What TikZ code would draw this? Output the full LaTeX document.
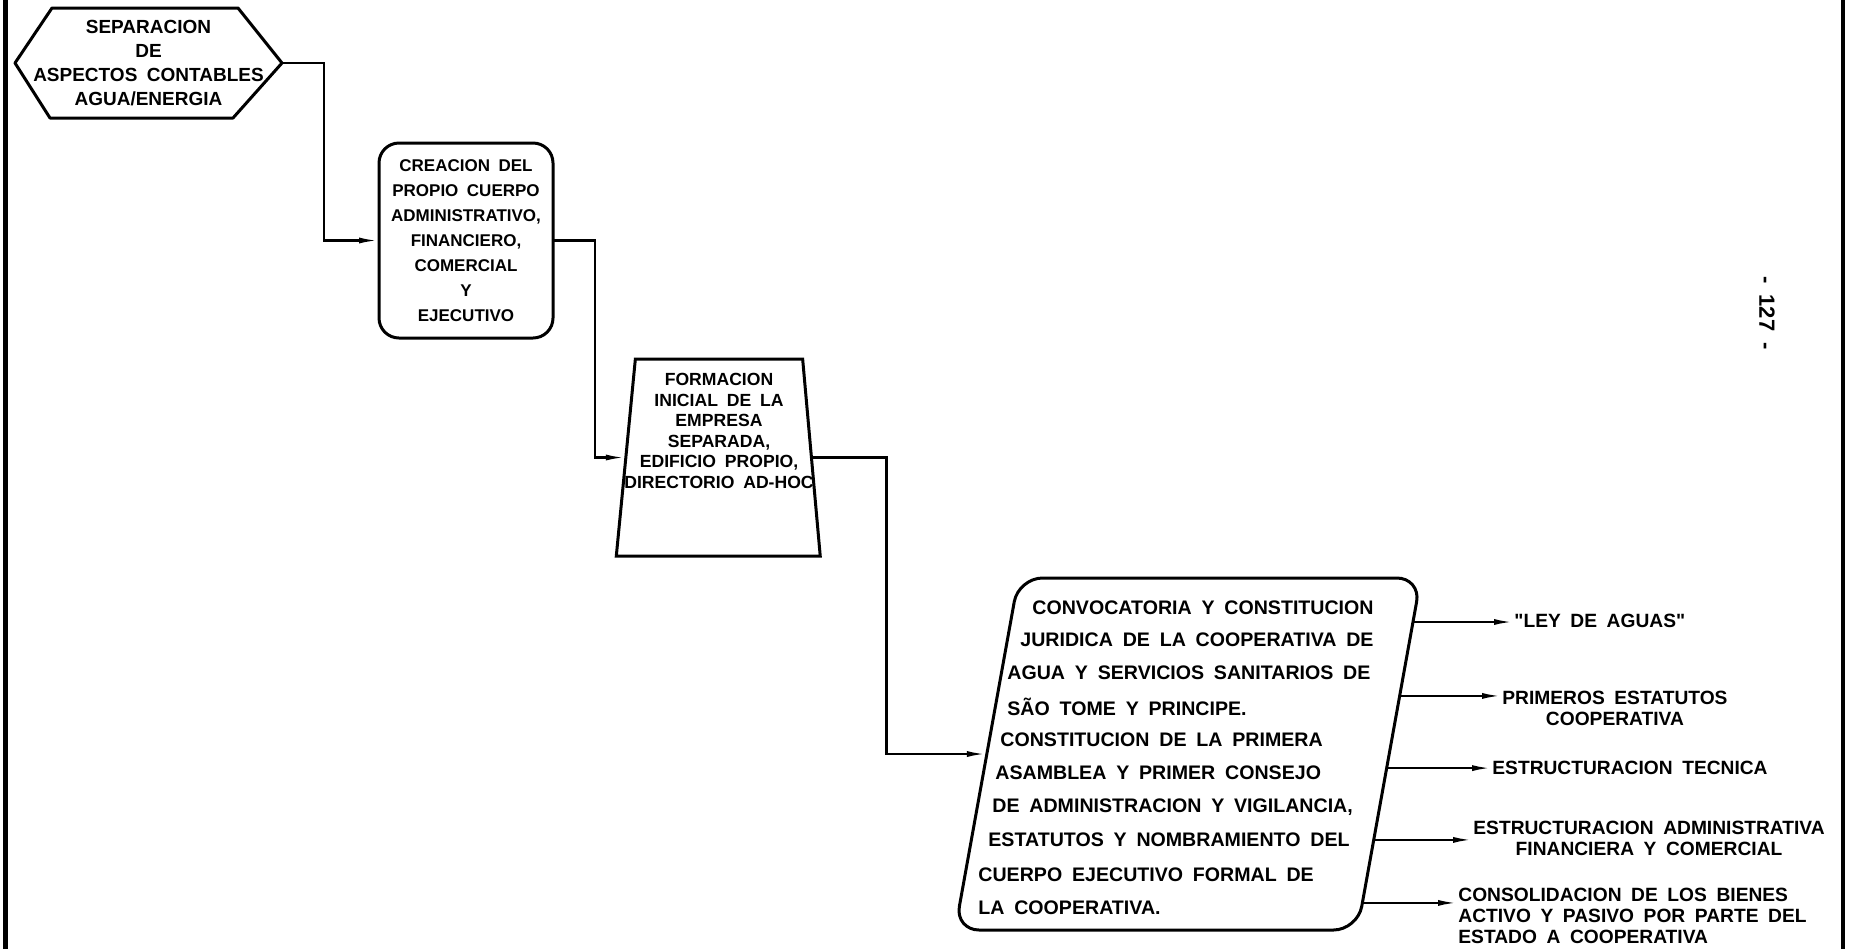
\documentclass[tikz,border=0pt]{standalone}
\usepackage{fontspec}
\setmainfont[WordSpace=1.8]{Liberation Sans}
\newfontfamily\labfont[WordSpace=1.8]{Liberation Sans}
\usetikzlibrary{shapes.geometric,arrows.meta,calc}

\tikzset{
  hexa/.style={rectangle, minimum width=133.5pt, minimum height=55pt, inner sep=0pt, outer sep=0pt,
    align=center, font=\bfseries\fontsize{9.5}{12}\selectfont},
  roundbox/.style={rectangle, rounded corners=10pt, draw, line width=1.5pt, minimum width=87pt,
    minimum height=97.5pt, inner sep=0pt, outer sep=0pt, align=center, font=\bfseries\fontsize{8.5}{12.5}\selectfont},
  trapbox/.style={trapezium, trapezium left angle=83.5, trapezium right angle=84, trapezium stretches=true,
    draw, line width=1.5pt, minimum width=102pt, minimum height=98.5pt, outer sep=0pt},
  slantbox/.style={trapezium, trapezium left angle=79.4, trapezium right angle=100.6, trapezium stretches=true,
    rounded corners=12pt, draw, line width=1.5pt, minimum width=233pt, minimum height=176pt, outer sep=0pt},
  line/.style={anchor=west, inner sep=0pt, font=\bfseries\fontsize{9.8}{12}\selectfont},
  lab/.style={inner sep=0pt, font=\labfont\bfseries\fontsize{9.6}{10.3}\selectfont},
  arr/.style={line width=1.2pt, -{Latex[length=10pt,width=3pt]}},
}

\begin{document}
\begin{tikzpicture}[x=0.5pt,y=-0.5pt]
      \useasboundingbox (0,0) rectangle (1855,949);
      \draw[line width=2.5pt] (5,0) -- (5,949);
      \draw[line width=2pt] (1843,0) -- (1843,949);

      \node[hexa] (sep) at (148.5,63) {SEPARACION\\DE\\ASPECTOS CONTABLES\\AGUA/ENERGIA};
      \draw[line width=1.5pt, line join=round] (sep.west) -- ($(sep.north west)+(37,0)$) -- ($(sep.north east)+(-44,0)$)
        -- (sep.east) -- ($(sep.south east)+(-49,0)$) -- ($(sep.south west)+(35,0)$) -- cycle;
      \node[roundbox] (cre) at (466,240.5) {CREACION DEL\\PROPIO CUERPO\\ADMINISTRATIVO,\\FINANCIERO,\\COMERCIAL\\Y\\EJECUTIVO};

      \node[trapbox] (form) at (719,457.5) {};
      \node[align=center, inner sep=0pt, font=\bfseries\fontsize{8.8}{10.3}\selectfont] (formtxt) at (719,431)
        {FORMACION\\INICIAL DE LA\\EMPRESA\\SEPARADA,\\EDIFICIO PROPIO,\\DIRECTORIO AD-HOC};

      \node[slantbox] (conv) at (1188,754) {};
      \node[line] (ln1) at (1032,608) {CONVOCATORIA Y CONSTITUCION};
      \node[line] (ln2) at (1020,640) {JURIDICA DE LA COOPERATIVA DE};
      \node[line] (ln3) at (1007,673) {AGUA Y SERVICIOS SANITARIOS DE};
      \node[line] (ln4) at (1007,707) {SÃO TOME Y PRINCIPE.};
      \node[line] (ln5) at (1000,740) {CONSTITUCION DE LA PRIMERA};
      \node[line] (ln6) at (995,773) {ASAMBLEA Y PRIMER CONSEJO};
      \node[line] (ln7) at (992,807) {DE ADMINISTRACION Y VIGILANCIA,};
      \node[line] (ln8) at (988,840) {ESTATUTOS Y NOMBRAMIENTO DEL};
      \node[line] (ln9) at (978,875) {CUERPO EJECUTIVO FORMAL DE};
      \node[line] (ln10) at (978,908) {LA COOPERATIVA.};

      \draw[arr] (sep.east) -- ++(42,0) |- (cre.west);
      \draw[arr] (cre.east) -- ++(42,0) |- (form.west);
      \draw[arr] (form.east) -- ++(75,0) |- (conv.west);

      \node[lab, anchor=west] (ley) at (1514,621) {"LEY DE AGUAS"};
      \node[lab, anchor=north west, align=center] (pri) at (1502,691) {PRIMEROS ESTATUTOS\\COOPERATIVA};
      \node[lab, anchor=west] (tec) at (1492,768) {ESTRUCTURACION TECNICA};
      \node[lab, anchor=north west, align=center] (adm) at (1473,821) {ESTRUCTURACION ADMINISTRATIVA\\FINANCIERA Y COMERCIAL};
      \node[lab, anchor=north west, align=left] (bie) at (1458,888) {CONSOLIDACION DE LOS BIENES\\ACTIVO Y PASIVO POR PARTE DEL\\ESTADO A COOPERATIVA};

      \coordinate (r1) at ($(conv.top right corner)!0.125!(conv.bottom right corner)$);
      \coordinate (r2) at ($(conv.top right corner)!0.335!(conv.bottom right corner)$);
      \coordinate (r3) at ($(conv.top right corner)!0.54!(conv.bottom right corner)$);
      \coordinate (r4) at ($(conv.top right corner)!0.744!(conv.bottom right corner)$);
      \coordinate (r5) at ($(conv.top right corner)!0.923!(conv.bottom right corner)$);
      \draw[arr] (r1) -- (r1 -| ley.west);
      \draw[arr] (r2) -- (r2 -| pri.west);
      \draw[arr] (r3) -- (r3 -| tec.west);
      \draw[arr] (r4) -- (r4 -| adm.west);
      \draw[arr] (r5) -- (r5 -| bie.west);

      \node[rotate=-90, font=\bfseries\fontsize{11}{11}\selectfont] (pag) at (1767,313) {- 127 -};
\end{tikzpicture}
\end{document}
